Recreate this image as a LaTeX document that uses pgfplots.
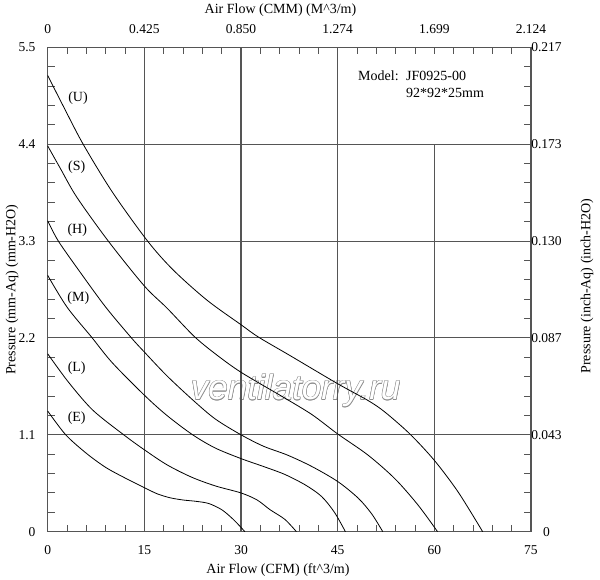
\documentclass[border=0pt]{standalone}
\usepackage{fontspec}
\setmainfont{Liberation Serif}
\newfontfamily\wmfont{Liberation Sans}
\usepackage{pgfplots}
\pgfplotsset{compat=1.18}
\definecolor{gridc}{RGB}{85,85,85}
\definecolor{wmc}{RGB}{140,140,140}
\newcommand{\lab}{\fontsize{14}{16}\selectfont}
\newcommand{\tlab}{\fontsize{13.5}{16}\selectfont}
\tikzset{wm/.style={font=\wmfont\itshape\fontsize{35}{40}\selectfont, anchor=base, inner sep=0pt}}
\begin{document}
\begin{tikzpicture}
\useasboundingbox (-47.7pt,-48.3pt) rectangle (552.3pt,531.7pt);
% watermark (outlined text), drawn first so that lines pass over it
\foreach \dx/\dy in {0.5/0, -0.5/0, 0/0.5, 0/-0.5, 0.36/0.36, -0.36/0.36, 0.36/-0.36, -0.36/-0.36}{
  \node[wm, text=wmc] at (248pt+\dx pt,131.7pt+\dy pt) {ventilatorry.ru};
}
\node[wm, text=white] at (248pt,131.7pt) {ventilatorry.ru};
\begin{axis}[
  at={(0pt,0pt)}, anchor=south west,
  width=483.3pt, height=484.4pt, scale only axis,
  xmin=0, xmax=75, ymin=0, ymax=5.5,
  xtick={0,15,30,45,60,75}, xticklabels={0,15,30,45,60,75},
  ytick={0,1.1,2.2,3.3,4.4,5.5}, yticklabels={0,1.1,2.2,3.3,4.4,5.5},
  minor x tick num=4, minor y tick num=4,
  tick pos=both, ticklabel pos=left, tick align=inside,
  major tick length=7pt, minor tick length=7pt,
  every tick/.style={line width=0.9pt, gridc},
  ymajorgrids, major grid style={gridc, line width=1.05pt},
  axis line style={gridc, line width=1.2pt},
  /pgf/number format/assume math mode=true,
  ticklabel style={font=\tlab},
  xticklabel style={anchor=center, yshift=-18.3pt},
  yticklabel style={anchor=east, inner sep=0pt, xshift=-12pt},
  clip=false,
]
\draw[gridc, line width=1.05pt] (axis cs:15,0) -- (axis cs:15,5.5);
\draw[gridc, line width=1.05pt] (axis cs:30,0) -- (axis cs:30,5.5);
\draw[gridc, line width=1.05pt] (axis cs:45,0) -- (axis cs:45,5.5);
\draw[gridc, line width=1.05pt] (axis cs:60,0) -- (axis cs:60,4.4);

% (U)
\addplot[black, line width=0.8pt, smooth, tension=0.5] coordinates {
(0,5.18) (2.5,4.82) (5.5,4.40) (10,3.86) (15.5,3.30) (19.5,2.97) (24.7,2.63)
(30,2.35) (32.7,2.21) (37.6,2.00) (45,1.68) (49.7,1.49) (52.3,1.36) (56.2,1.11)
(60,0.81) (63.7,0.45) (67.5,0)};
% (S)
\addplot[black, line width=0.8pt, smooth, tension=0.5] coordinates {
(0,4.38) (2,4.12) (4.5,3.80) (9.4,3.30) (15,2.79) (18.5,2.54) (22.7,2.22)
(26,2.02) (30,1.81) (36.5,1.53) (41,1.33) (45,1.11) (49.7,0.87) (53.9,0.60)
(57.5,0.30) (60.5,0)};
% (H)
\addplot[black, line width=0.8pt, smooth, tension=0.5] coordinates {
(0,3.53) (1.65,3.30) (5,2.95) (9,2.55) (13,2.20) (15,2.04) (18.5,1.77)
(22.6,1.49) (26,1.28) (30,1.10) (33.5,0.97) (37.2,0.87) (41,0.74) (45,0.57)
(48.2,0.38) (50.3,0.20) (52,0)};
% (M)
\addplot[black, line width=0.8pt, smooth, tension=0.5] coordinates {
(0,2.91) (3,2.55) (6.8,2.21) (10,1.92) (15,1.55) (18.5,1.32) (22.5,1.10)
(26,0.95) (30,0.83) (33.5,0.74) (36.8,0.65) (40,0.53) (42.5,0.40) (44.5,0.22)
(46.2,0)};
% (L)
\addplot[black, line width=0.8pt, smooth, tension=0.5] coordinates {
(0,2.02) (3.2,1.70) (7,1.38) (11.8,1.10) (15,0.93) (18.5,0.76) (22.3,0.62)
(26,0.52) (30,0.44) (32.5,0.36) (34.5,0.25) (36.8,0.14) (38.6,0)};
% (E)
\addplot[black, line width=0.8pt, smooth, tension=0.5] coordinates {
(0,1.37) (2.8,1.10) (6,0.89) (9,0.73) (12,0.61) (15,0.50) (17,0.43)
(19,0.385) (21,0.36) (23,0.345) (25,0.32) (27,0.25) (28.5,0.16) (29.6,0.08)
(30.6,0)};
\end{axis}

\begin{axis}[
  at={(0pt,0pt)}, anchor=south west,
  width=483.3pt, height=484.4pt, scale only axis,
  xmin=0, xmax=75, ymin=0, ymax=5.5,
  xtick={0,15,30,45,60,75}, xticklabels={0,0.425,0.850,1.274,1.699,2.124},
  ytick={0,1.1,2.2,3.3,4.4,5.5}, yticklabels={0,0.043,0.087,0.130,0.173,0.217},
  minor tick num=0, major tick length=0pt,
  axis line style={draw=none},
  xticklabel pos=right, yticklabel pos=right,
  /pgf/number format/assume math mode=true,
  ticklabel style={font=\tlab},
  xticklabel style={anchor=center, yshift=18.3pt},
  yticklabel style={anchor=center, xshift=15.5pt},
]
\end{axis}

\node[font=\lab] at (230.3pt,-38.3pt) {Air Flow (CFM) (ft\textasciicircum 3/m)};
\node[font=\lab] at (232.8pt,521.7pt) {Air Flow (CMM) (M\textasciicircum 3/m)};
\node[font=\lab, rotate=90] at (-35.7pt,242pt) {Pressure (mm-Aq) (mm-H2O)};
\node[font=\lab, rotate=90] at (539.3pt,245.7pt) {Pressure (inch-Aq) (inch-H2O)};

\node[font=\lab] at (30.3pt,433.4pt) {(U)};
\node[font=\lab] at (29pt,365pt) {(S)};
\node[font=\lab] at (29.6pt,301.7pt) {(H)};
\node[font=\lab] at (30.6pt,233.4pt) {(M)};
\node[font=\lab] at (29pt,163.4pt) {(L)};
\node[font=\lab] at (29pt,113.4pt) {(E)};

\node[font=\lab, anchor=base west, inner sep=0pt] at (310.3pt,451pt) {Model:};
\node[font=\lab, anchor=base west, inner sep=0pt] at (358.3pt,451pt) {JF0925-00};
\node[font=\lab, anchor=base west, inner sep=0pt] at (358.3pt,434.4pt) {92*92*25mm};
\end{tikzpicture}
\end{document}
